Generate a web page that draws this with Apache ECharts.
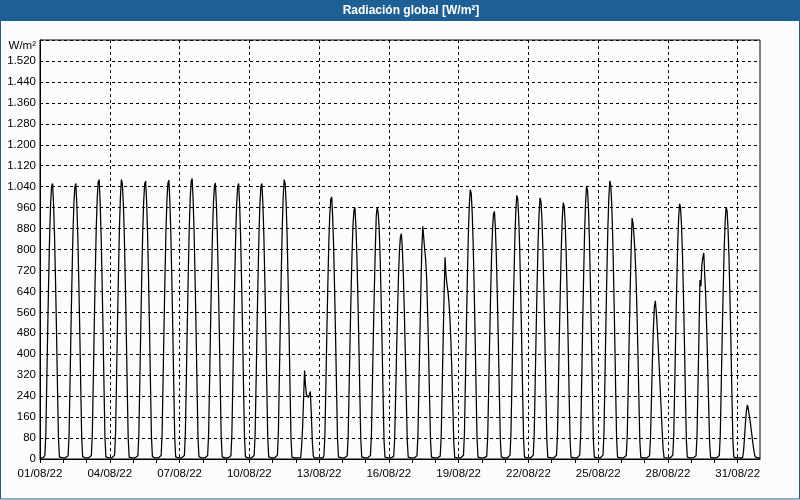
<!DOCTYPE html>
<html><head><meta charset="utf-8">
<script src="https://cdn.jsdelivr.net/npm/echarts@6/dist/echarts.min.js"></script>
<style>html,body{margin:0;padding:0;background:#fbfdfb}#c{width:800px;height:500px}</style>
</head><body><div id="c"></div>
<script>
const chartTitle = 'Radiación global [W/m²]';
const yUnit = 'W/m²';
const days = ['01/08/22','02/08/22','03/08/22','04/08/22','05/08/22','06/08/22','07/08/22','08/08/22','09/08/22','10/08/22',
  '11/08/22','12/08/22','13/08/22','14/08/22','15/08/22','16/08/22','17/08/22','18/08/22','19/08/22','20/08/22',
  '21/08/22','22/08/22','23/08/22','24/08/22','25/08/22','26/08/22','27/08/22','28/08/22','29/08/22','30/08/22','31/08/22'];
const hours = ['00','01','02','03','04','05','06','07','08','09','10','11','12','13','14','15','16','17','18','19','20','21','22','23'];
// hourly global radiation (W/m²), one row per day, hours 00..23
const radiation = [
  [4,4,4,4,4,13,95,295,505,694,863,978,1042,1052,973,852,684,494,284,84,8,4,4,4],
  [4,4,4,4,4,12,93,293,503,692,860,977,1040,1052,972,853,685,495,285,85,9,4,4,4],
  [4,4,4,4,4,13,96,299,512,704,875,992,1056,1067,987,864,694,501,288,85,8,4,4,4],
  [4,4,4,4,4,15,101,309,523,715,886,1003,1067,1051,976,854,683,491,277,80,7,4,4,4],
  [4,4,4,4,4,12,92,292,502,696,866,985,1050,1061,985,862,692,500,288,86,9,4,4,4],
  [4,4,4,4,4,13,96,298,511,703,873,990,1054,1065,985,863,692,500,287,85,8,4,4,4],
  [4,4,4,4,4,13,96,300,514,707,878,996,1060,1071,991,868,696,503,289,86,9,4,4,4],
  [4,4,4,4,4,13,95,295,506,696,864,980,1043,1054,975,854,685,495,285,84,8,4,4,4],
  [4,4,4,4,4,12,94,294,504,694,862,978,1041,1052,973,852,684,494,284,84,8,4,4,4],
  [4,4,4,4,4,13,95,294,505,695,863,979,1042,1052,974,853,684,495,284,84,8,4,4,4],
  [4,4,4,4,4,15,101,309,523,715,886,1003,1067,1051,976,854,683,491,277,80,7,4,4,4],
  [4,4,4,4,4,5,50,120,230,338,280,245,240,235,240,258,170,70,12,4,4,4,4,4],
  [4,4,4,4,4,12,90,280,480,661,821,931,991,1001,926,811,651,470,270,80,8,4,4,4],
  [4,4,4,4,4,12,86,269,461,634,787,893,950,960,888,778,624,451,259,77,8,4,4,4],
  [4,4,4,4,4,13,91,279,471,645,799,930,962,940,880,770,616,443,250,72,7,4,4,4],
  [4,4,4,4,4,10,77,241,413,568,705,800,851,860,796,697,559,404,232,69,7,4,4,4],
  [4,4,4,4,4,12,88,275,465,640,800,889,845,800,760,690,560,410,235,70,7,4,4,4],
  [4,4,4,4,4,11,85,265,450,630,770,700,665,640,600,540,450,340,205,62,6,4,4,4],
  [4,4,4,4,4,14,98,298,504,689,854,967,1029,1014,941,823,659,473,268,77,7,4,4,4],
  [4,4,4,4,4,11,85,265,454,624,775,879,936,945,874,765,614,444,255,76,8,4,4,4],
  [4,4,4,4,4,14,96,292,493,675,836,947,1007,992,921,806,644,463,262,76,7,4,4,4],
  [4,4,4,4,4,14,95,289,489,668,828,937,997,982,912,798,638,459,259,75,7,4,4,4],
  [4,4,4,4,4,14,93,284,480,656,813,920,979,964,896,783,627,450,255,73,7,4,4,4],
  [4,4,4,4,4,15,99,302,511,699,866,980,1043,1027,954,834,668,480,271,78,7,4,4,4],
  [4,4,4,4,4,15,101,308,520,712,881,998,1062,1046,972,850,680,489,276,80,7,4,4,4],
  [4,4,4,4,4,13,90,270,460,640,800,920,900,850,790,700,570,410,235,68,6,4,4,4],
  [4,4,4,4,4,12,80,230,380,500,580,604,560,500,430,350,270,190,110,40,5,4,4,4],
  [4,4,4,4,4,14,93,283,478,653,809,917,975,960,892,780,624,449,254,73,7,4,4,4],
  [4,4,4,4,4,12,90,280,470,683,660,740,770,787,700,620,500,360,210,62,6,4,4,4],
  [4,4,4,4,4,13,91,279,471,645,798,904,962,948,880,770,616,443,250,72,7,4,4,4],
  [4,4,4,4,4,4,30,80,140,185,207,190,165,140,110,80,50,25,8,4,4,4,4,4]
];

const categories = days.flatMap(d => hours.map(h => d + ' ' + h));
const values = radiation.flat();
const fmt = v => v >= 1000 ? Math.floor(v / 1000) + '.' + String(v % 1000).padStart(3, '0') : String(v);
const FONT = '"Liberation Sans", Arial, sans-serif';
const BLUE = '#1e6096';

const chart = echarts.init(document.getElementById('c'), null, {renderer: 'canvas', width: 800, height: 500});
chart.setOption({
  animation: false,
  backgroundColor: '#fbfdfb',
  textStyle: {fontFamily: FONT},
  grid: {left: 40, right: 40, top: 40, bottom: 41, show: true, borderColor: '#000', borderWidth: 1},
  xAxis: {
    type: 'category', data: categories, boundaryGap: false,
    axisLine: {lineStyle: {color: '#000', width: 1}},
    axisTick: {show: true, interval: (i) => i % 24 === 0, length: 4, lineStyle: {color: '#000'}},
    axisLabel: {interval: (i) => i % 72 === 0, formatter: (v) => v.split(' ')[0], color: '#000', fontSize: 11.5, fontFamily: FONT, margin: 9},
    splitLine: {show: true, interval: (i) => i % 72 === 0 && i > 0, lineStyle: {color: '#000', width: 1, type: [3, 3]}}
  },
  yAxis: {
    type: 'value', min: 0, max: 1600, interval: 80,
    axisLine: {show: true, lineStyle: {color: '#000', width: 1}},
    axisTick: {show: false},
    axisLabel: {formatter: (v) => v >= 1600 ? '' : fmt(v), color: '#000', fontSize: 11.5, fontFamily: FONT, margin: 4},
    splitLine: {show: true, lineStyle: {color: '#000', width: 1, type: [3, 3]}}
  },
  series: [{
    type: 'line', data: values, symbol: 'none', showSymbol: false,
    lineStyle: {color: '#000', width: 1.25}, itemStyle: {color: '#000'}
  }],
  graphic: [
    {type: 'rect', shape: {x: 0, y: 0, width: 800, height: 21}, style: {fill: BLUE}, z: 10},
    {type: 'rect', shape: {x: 0.5, y: 0.5, width: 799, height: 498.5}, style: {fill: 'transparent', stroke: BLUE, lineWidth: 1}, z: 10},
    {type: 'text', x: 411, y: 11, z: 11, style: {text: chartTitle, fill: '#fff', font: 'bold 12px ' + FONT, align: 'center', verticalAlign: 'middle', textAlign: 'center', textVerticalAlign: 'middle'}},
    {type: 'text', x: 36, y: 46, z: 11, style: {text: yUnit, fill: '#000', font: '11.5px ' + FONT, align: 'right', verticalAlign: 'middle', textAlign: 'right', textVerticalAlign: 'middle'}}
  ]
});
</script>
</body></html>
